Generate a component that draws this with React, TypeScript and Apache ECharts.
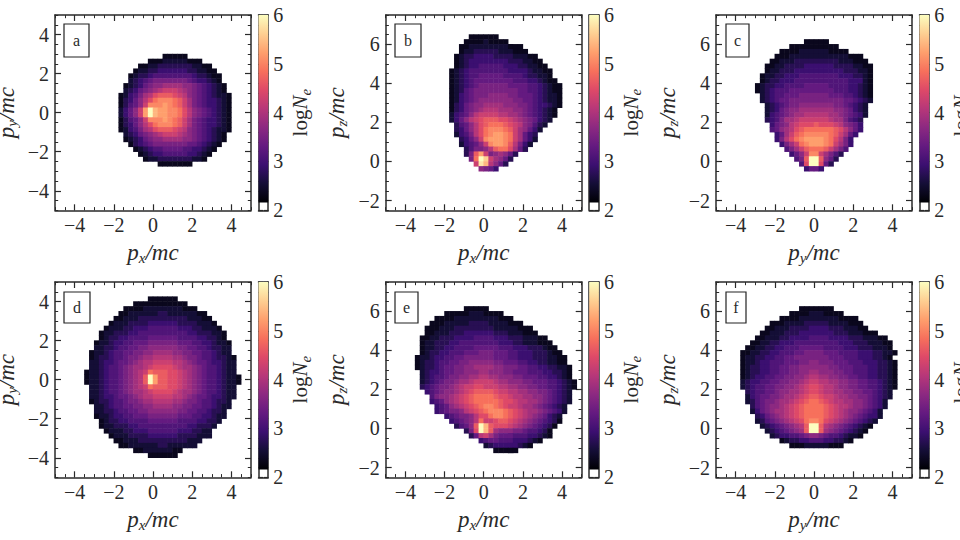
import React, { useEffect, useRef } from "react";
import * as echarts from "echarts";

// Cell code: a=2.2 b=2.4 c=2.6 d=2.8 e=3.0 f=3.2 g=3.4 h=3.6 i=3.8 j=4.0
//            k=4.2 l=4.4 m=4.6 n=4.8 o=5.0 p=5.2 q=5.4 r=5.6 s=5.8 t=6.0
// Each row: "firstColumn:cells". Cells are 0.25 x 0.25 in p/mc.
const panelAFirstRow = 8;
const panelARows = [
  "22:aaaaa","19:aaabbbbbaaa","17:aabbcccccccbbaa","16:abbccddddddccbbaa","15:abccdeeeeeeeedccbaa",
  "15:bcdefgggggggfeddcba","14:abcdfghhiiiihhgfedcba","14:bcdfghijkkkjihgfedcba","13:abdegijlmmmlkjhgfedcbba",
  "13:acdfhjlnooonmkigfeddcba","13:acefhkoooponmkigfeddcba","13:bdfhkptqppoonljhgfedcba","13:bdfhkptqppoonljhgfedcba",
  "13:acefhkoooponmkigfeddcba","13:acdfhjlnooonmkigfeddcba","13:abdegijlmmmlkjhgfedcbba","14:bcdfghijkkkjihgfedcba",
  "14:abcdfghhiiiihhgfedcba","15:acdefgggggggffedcba","16:abcdeeffffeeddcba","17:abcddeeeeeddcba","18:abbcccccccbba","21:aaaaaaa",
];
const panelBFirstRow = 4;
const panelBRows = [
  "17:aaaaaa","16:aaaabaaaa","15:aabbbbbbbbaaa","15:abbcccccbbbaaa","14:abccddddccccbbbaa","14:abcddddddddcccbbaa",
  "14:abcddeeeeedddccbbaa","13:abcdeeeeeeeeddddcbbaa","13:abcdeefffffeeeedccbba","13:abcdeffffffffeeeddcbaa",
  "13:abcdefggggggffffeedcbaa","13:abcefgggggggggffeedcbaa","13:abdefggghhhhggfffedcbba","13:abdefghhhhhhhggffedcbba",
  "13:acdfghhiiiihhhggfeddcba","13:acdfghijjjiiihhgfedcba","13:bdefhjkkkkjjiihgfedcba","13:bdfhjklmmmllkjihgfdcb",
  "14:cefhjlmnnnmlkjhgecb","14:cdfhjlnooonmkihfdb","14:bdegjlnopponkifdc","15:cdfhkoppponkifdb","15:bdefhkoppomjgdb",
  "16:cegghjmnnlifc","16:cgmpkghihfc","17:gntrkihfc","18:ksqjhfc","19:hgfd",
];
const panelCFirstRow = 5;
const panelCRows = [
  "18:aaaaa","15:aaaaaaaaaa","13:aaaabbbbbbaaaa","12:aaabbbbbbbbbbbbaaa","11:aabbbcccccccccbbbaaa","10:aabbccccddddddccccbbaa",
  "10:abbcccddddddddddcccbba","9:abbccdddeeeeeeeedddccba","9:abccdddeeeeeeeeeeedddba","8:abccddeeeefffffeeeeddcba",
  "8:abcdeeefffffffffeeeddcba","9:bcdeefffggggggfffeedcba","9:bcdeffgggggggggggffedcb","10:bcdefgghhhhhhhggfedcb",
  "10:bcdfghhiiiiiiihhgfdcb","10:bdefghiijjjjjiihgfedb","10:cdegiijkkkkkkjiigedc","11:dfghjklllmlllkjhgfd",
  "11:efhijlmnnnnnnmljhfd","12:dfikmnooooonmkifd","12:dgjlnoppppon" + "ljgd","13:dgiknoppponkigd","14:egikmnnnmkige",
  "15:dfhkookigec","16:egmttmhfc","17:elttlfc","18:dffd",
];
const panelDFirstRow = 3;
const panelDRows = [
  "19:aaaaaa","16:aaaaaaaaaaa","14:aaaabbbbbbbbaaa","13:aabbbbbbccbbbbbbaa","12:aabbbccccccccccbbbaa",
  "11:abbbccccddddddccccbbba","10:abbbccdddeeeeeedddccbbba","9:abbcccddeeeeeeeeeeddcccbba","9:abccddeeeeffffffeeeeddccba",
  "8:abbcddeefffggggggfffeeddcbba","8:bbccdeeffgghhhhhhggffeedccbb","7:abbcdeeffgghhiiiihhggffeedcbb",
  "7:abccdeefgghiijjjjiihggfeedccba","7:bbcddeffghijjkkkkjjihgffeddcbb","7:bbcdeefghiijkllllkjiihgfeedcbb",
  "6:abbcdeefghijknmmmllkjihgfeedcbb","6:abbcdeefghijmtpmmllkjihgfeedcbba","6:abbcdeefghijmtpmmllkjihgfeedcbba",
  "7:bbcdeefghijknmmmllkjihgfeedcbb","7:bbcdeefghiijkllllkjiihgfeedcbb","7:bbcddeffghijjkkkkjjihgffeddcbb",
  "7:abccdeefgghiijjjjiihggfeedccb","8:bbcdeeffgghhiiiihhggffeedcbb","8:bbccdeeffgghhhhhhggffeedccb",
  "8:abbcddeefffggggggfffeeddcbb","9:abccddeeeeffffffeeeeddccb","9:abbcccddeeeeeeeeeeddcccb","10:abbbccdddeeeeeedddccbb",
  "11:abbbccccddddddccccbbb","12:aabbbccccccccccbbb","13:aabbbbbbccbbbbbb","16:aabbbbbbaa","19:aaaaaa",
];
const panelEFirstRow = 5;
const panelERows = [
  "16:aaaaa","12:aaaaabbbaaaa","10:aaaabbbbbbbbbaaa","9:aaabbbbbccccbbbbaaa","8:aaabbbccccccccbbbbbaaa","8:aabbbcccddddddcccbbbaaa",
  "7:aabbcccddddeeeedddcccbbbaa","7:abbcccddeeeeeeeedddccbbbaaa","7:abbccddeeeefffffeeedddcccbaa","7:abccddeeefffgggfffeedddcccbaa",
  "6:abbcddeeffggggggfffeedddcccbbaa","6:abccdeeffgghhhhhggfffeeddccbbaa","6:abccdeffgghhiiiihhgggffeeddccbba",
  "7:bcddeffgghhhiihhhggfffeeeddccba","7:bcdeefgghhiijjiihhhggfffeeddcba","7:bcdefgghiijkkkkjiihhhggfffeedcba",
  "7:cdefgghijkkllkkkjjiihhggffeedcba","8:defghhijklmmmmlkkjjiihhggfedcb","9:eghhijklmnnnnmllkjjiihhgfedcb",
  "9:defhijklmnnnnnmllkjjiihgfedcb","10:defhijklmnoonmlkkjiihgfedcb","10:defgghjklmnooonmlkjiihgfedb",
  "12:defgghjllnoonmlkjihgfdcb","13:defghjnkklmmlkjihgfedca","14:cefhmtqmlllkjihgfedca","16:cgltqmihhhggfeedca",
  "17:cfjkigfffeeeddcba","19:deffeeedddcba","20:bcdddddcba","22:aaaaa",
];
const panelFFirstRow = 5;
const panelFRows = [
  "17:aaaaaaa","15:aaaabbbaaaa","13:aaaabbbbbbbbaaaa","11:aaabbbbcccccbbbbaaa","10:aabbbccccddddcccbbbaa","9:aabbbcccdddddddcccbbbaaa",
  "8:aabbbccddddeeeeddddcccbbbaa","7:aabbccdddeeeeeeeeedddcccbbbaa","6:aabbccddeeefffffeeeedddcccbbba",
  "5:aabbccddeeeffggggfffeeeedddccbba","5:abbccddeeffgggggggfffeeedddccba","5:abbcddeeefffgghhgggfffeeedddccba",
  "5:abccddeeffgghhhhhhggfffeeeddccba","5:abccddeeffgghhiihhhggffeeeddccba","5:abcddeeffgghhijjiihhggffeeddccba",
  "5:bcddeeffgghhijkkjjiihhggffeedcba","5:bcdeeffgghhijkllkjjihhggffeedcba","6:cdeeffghhiijkllkjjiihhggffedcb",
  "6:bdeffgghiijklmmlkkjiihhggfedcb","6:bcefgghiijklmnnmlkjjiihhgfedb","7:cefghhijklmnnnnmlkjjihhgfedb",
  "7:bdfghiijklmnnnnmlkjihhgfedb","8:cdfghijklmnnnnmlkjihgfeddb","8:bcefghijklnoonlkjihgfedcb","9:bcdefghijmttmjihgfedcba",
  "10:bcdefghimttmihgfedcba","11:bcddeefghhgfeedcbba","13:abccddeeeddccba","15:aaabbbbbaaa",
];

const panelNames = ["a", "b", "c", "d", "e", "f"];
const momentumTicks = [-4, -2, 0, 2, 4];
const tallTicks = [-2, 0, 2, 4, 6];
const colorTicks = [2, 3, 4, 5, 6];

const magma = ["#000004","#140e36","#3b0f70","#641a80","#8c2981","#b73779","#de4968","#f7705c","#fe9f6d","#fecf92","#fcfdbf"];

// Layout
const GRID_CELLS = 40;
const PANEL_W = 196;
const PANEL_H = 195.3;
const lefts = [55, 385.7, 716];
const tops = [15, 282];
const BAR_GAP = 203.5;
const BAR_W = 9.7;
const FONT = '"Liberation Serif", serif';
const INK = "#2a2a2a";
const boxes = [
  [64, 24, 25, 33], [395, 24, 26, 33], [726, 24, 23, 33],
  [64, 292, 26, 31], [395, 292, 23, 31], [726, 292, 20, 31],
];

const rich = {
  i: { fontFamily: FONT, fontStyle: "italic", fontSize: 23, color: INK, lineHeight: 26 },
  n: { fontFamily: FONT, fontStyle: "italic", fontSize: 21, color: INK, lineHeight: 26 },
  r: { fontFamily: FONT, fontSize: 21, color: INK, lineHeight: 26 },
  s: { fontFamily: FONT, fontStyle: "italic", fontSize: 15, color: INK, lineHeight: 26, verticalAlign: "bottom" },
};

function steps(min: number, max: number, step: number) {
  const out: number[] = [];
  const n = Math.round((max - min) / step);
  for (let k = 0; k <= n; k++) out.push(+(min + k * step).toFixed(4));
  return out;
}

function cells(rows: string[], firstRow: number) {
  const out: number[][] = [];
  rows.forEach((row, i) => {
    const [start, codes] = row.split(":");
    for (let c = 0; c < codes.length; c++) {
      out.push([Number(start) + c, firstRow + i, +(2 + 0.2 * (codes.charCodeAt(c) - 96)).toFixed(1)]);
    }
  });
  return out;
}

const fmt = (v: number) => String(v).replace("-", "\u2212");

function buildOption() {
  const grid: any[] = [];
  const xAxis: any[] = [];
  const yAxis: any[] = [];
  const series: any[] = [];
  const graphic: any[] = [];

  const addGrid = (left: number, top: number, width: number, height: number) => {
    grid.push({ left, top, width, height, containLabel: false, outerBoundsMode: "none" });
    return grid.length - 1;
  };
  const line = { show: true, onZero: false, lineStyle: { color: INK, width: 1.5 } };

  const addFrame = (
    left: number, top: number, w: number, h: number,
    xr: [number, number], yr: [number, number],
    xMajor: number[], yMajor: number[], xMinor: number[], yMinor: number[],
    xName: string | null, yName: string | null, isBar: boolean,
  ) => {
    // major ticks, labels and names
    const g = addGrid(left, top, w, h);
    const tickStyle = { show: true, inside: true, length: isBar ? 4.5 : 6, lineStyle: { color: INK, width: 1.2 } };
    const labelStyle = { fontFamily: FONT, fontSize: 20, color: INK };
    xAxis.push({
      type: "value", gridIndex: g, position: "bottom", min: xr[0], max: xr[1], splitLine: { show: false }, axisLine: line,
      axisTick: isBar ? { show: false } : { ...tickStyle, customValues: xMajor },
      axisLabel: isBar ? { show: false } : { show: true, ...labelStyle, margin: 5, customValues: xMajor, formatter: fmt },
      name: xName || "", nameLocation: "middle", nameGap: 29, nameMoveOverlap: false, nameTextStyle: { rich },
    });
    xAxis.push({
      type: "value", gridIndex: g, position: "top", min: xr[0], max: xr[1], splitLine: { show: false }, axisLine: line,
      axisTick: isBar ? { show: false } : { ...tickStyle, customValues: xMajor }, axisLabel: { show: false },
    });
    yAxis.push({
      type: "value", gridIndex: g, position: isBar ? "right" : "left", min: yr[0], max: yr[1], splitLine: { show: false }, axisLine: line,
      axisTick: { ...tickStyle, customValues: yMajor },
      axisLabel: { show: true, ...labelStyle, margin: isBar ? 5 : 6, customValues: yMajor, formatter: fmt },
      name: yName || "", nameLocation: "middle", nameRotate: 90, nameGap: isBar ? 19 : 36, nameMoveOverlap: false, nameTextStyle: { rich },
    });
    yAxis.push({
      type: "value", gridIndex: g, position: isBar ? "left" : "right", min: yr[0], max: yr[1], splitLine: { show: false }, axisLine: line,
      axisTick: { ...tickStyle, customValues: yMajor }, axisLabel: { show: false },
    });
    // minor ticks
    const m = addGrid(left, top, w, h);
    const minor = { show: true, inside: true, length: isBar ? 2.5 : 3.2, lineStyle: { color: INK, width: 1 } };
    const blank = { show: false };
    const noLine = { show: false, onZero: false };
    xAxis.push({ type: "value", gridIndex: m, position: "bottom", min: xr[0], max: xr[1], splitLine: blank, axisLine: noLine, axisLabel: blank,
      axisTick: isBar ? blank : { ...minor, customValues: xMinor } });
    xAxis.push({ type: "value", gridIndex: m, position: "top", min: xr[0], max: xr[1], splitLine: blank, axisLine: noLine, axisLabel: blank,
      axisTick: isBar ? blank : { ...minor, customValues: xMinor } });
    yAxis.push({ type: "value", gridIndex: m, position: "left", min: yr[0], max: yr[1], splitLine: blank, axisLine: noLine, axisLabel: blank,
      axisTick: { ...minor, customValues: yMinor } });
    yAxis.push({ type: "value", gridIndex: m, position: "right", min: yr[0], max: yr[1], splitLine: blank, axisLine: noLine, axisLabel: blank,
      axisTick: { ...minor, customValues: yMinor } });
  };

  const panels = [
    { rows: panelARows, first: panelAFirstRow, x: "{i|p}{s|x}{i|/mc}", y: "{i|p}{s|y}{i|/mc}", yr: [-5, 5], yt: momentumTicks },
    { rows: panelBRows, first: panelBFirstRow, x: "{i|p}{s|x}{i|/mc}", y: "{i|p}{s|z}{i|/mc}", yr: [-2.5, 7.5], yt: tallTicks },
    { rows: panelCRows, first: panelCFirstRow, x: "{i|p}{s|y}{i|/mc}", y: "{i|p}{s|z}{i|/mc}", yr: [-2.5, 7.5], yt: tallTicks },
    { rows: panelDRows, first: panelDFirstRow, x: "{i|p}{s|x}{i|/mc}", y: "{i|p}{s|y}{i|/mc}", yr: [-5, 5], yt: momentumTicks },
    { rows: panelERows, first: panelEFirstRow, x: "{i|p}{s|x}{i|/mc}", y: "{i|p}{s|z}{i|/mc}", yr: [-2.5, 7.5], yt: tallTicks },
    { rows: panelFRows, first: panelFFirstRow, x: "{i|p}{s|y}{i|/mc}", y: "{i|p}{s|z}{i|/mc}", yr: [-2.5, 7.5], yt: tallTicks },
  ];
  const cats = Array.from({ length: GRID_CELLS }, (_, i) => String(i));

  panels.forEach((p, idx) => {
    const left = lefts[idx % 3];
    const top = tops[Math.floor(idx / 3)];
    // heat cells
    const h = addGrid(left, top, PANEL_W, PANEL_H);
    const xi = xAxis.length;
    const yi = yAxis.length;
    xAxis.push({ type: "category", gridIndex: h, data: cats, show: false });
    yAxis.push({ type: "category", gridIndex: h, data: cats, inverse: true, show: false });
    series.push({ type: "heatmap", xAxisIndex: xi, yAxisIndex: yi, data: cells(p.rows, p.first), itemStyle: { borderWidth: 0 }, emphasis: { disabled: true }, silent: true });

    addFrame(left, top, PANEL_W, PANEL_H, [-5, 5], p.yr as [number, number],
      momentumTicks, p.yt, steps(-5, 5, 0.5), steps(p.yr[0], p.yr[1], 0.5), p.x, p.y, false);

    // colour bar
    const bx = left + BAR_GAP;
    const cutoff = PANEL_H * (1 - 0.16 / 4);
    graphic.push({
      type: "rect", z: 1, shape: { x: bx, y: top, width: BAR_W, height: cutoff },
      style: { fill: new echarts.graphic.LinearGradient(0, 1, 0, 0, magma.map((color, k) => ({ offset: k / (magma.length - 1), color }))) },
    });
    addFrame(bx, top, BAR_W, PANEL_H, [0, 1], [2, 6], [], colorTicks, [], steps(2, 6, 0.2), null, "{r|log}{n|N}{s|e}", true);

    // panel letter box
    const b = boxes[idx];
    graphic.push({
      type: "rect", z: 20, shape: { x: b[0], y: b[1], width: b[2], height: b[3] },
      style: { fill: "#ffffff", stroke: "#222222", lineWidth: 1.2 },
    });
    graphic.push({
      type: "text", z: 21, x: b[0] + b[2] / 2, y: b[1] + b[3] / 2,
      style: { text: panelNames[idx], font: `16px ${FONT}`, fill: INK, align: "center", verticalAlign: "middle" },
    });
  });

  return {
    animation: false,
    backgroundColor: "#ffffff",
    grid, xAxis, yAxis, series, graphic: { elements: graphic },
    visualMap: {
      type: "continuous", show: false, min: 2, max: 6, seriesIndex: series.map((_, i) => i),
      inRange: { color: magma },
    },
  };
}

export default function App() {
  const ref = useRef<HTMLDivElement | null>(null);
  useEffect(() => {
    const chart = echarts.init(ref.current!, undefined, { renderer: "svg" });
    chart.setOption(buildOption() as any);
    return () => chart.dispose();
  }, []);
  return <div ref={ref} style={{ position: "absolute", left: 0, top: 0, width: 960, height: 540 }} />;
}
